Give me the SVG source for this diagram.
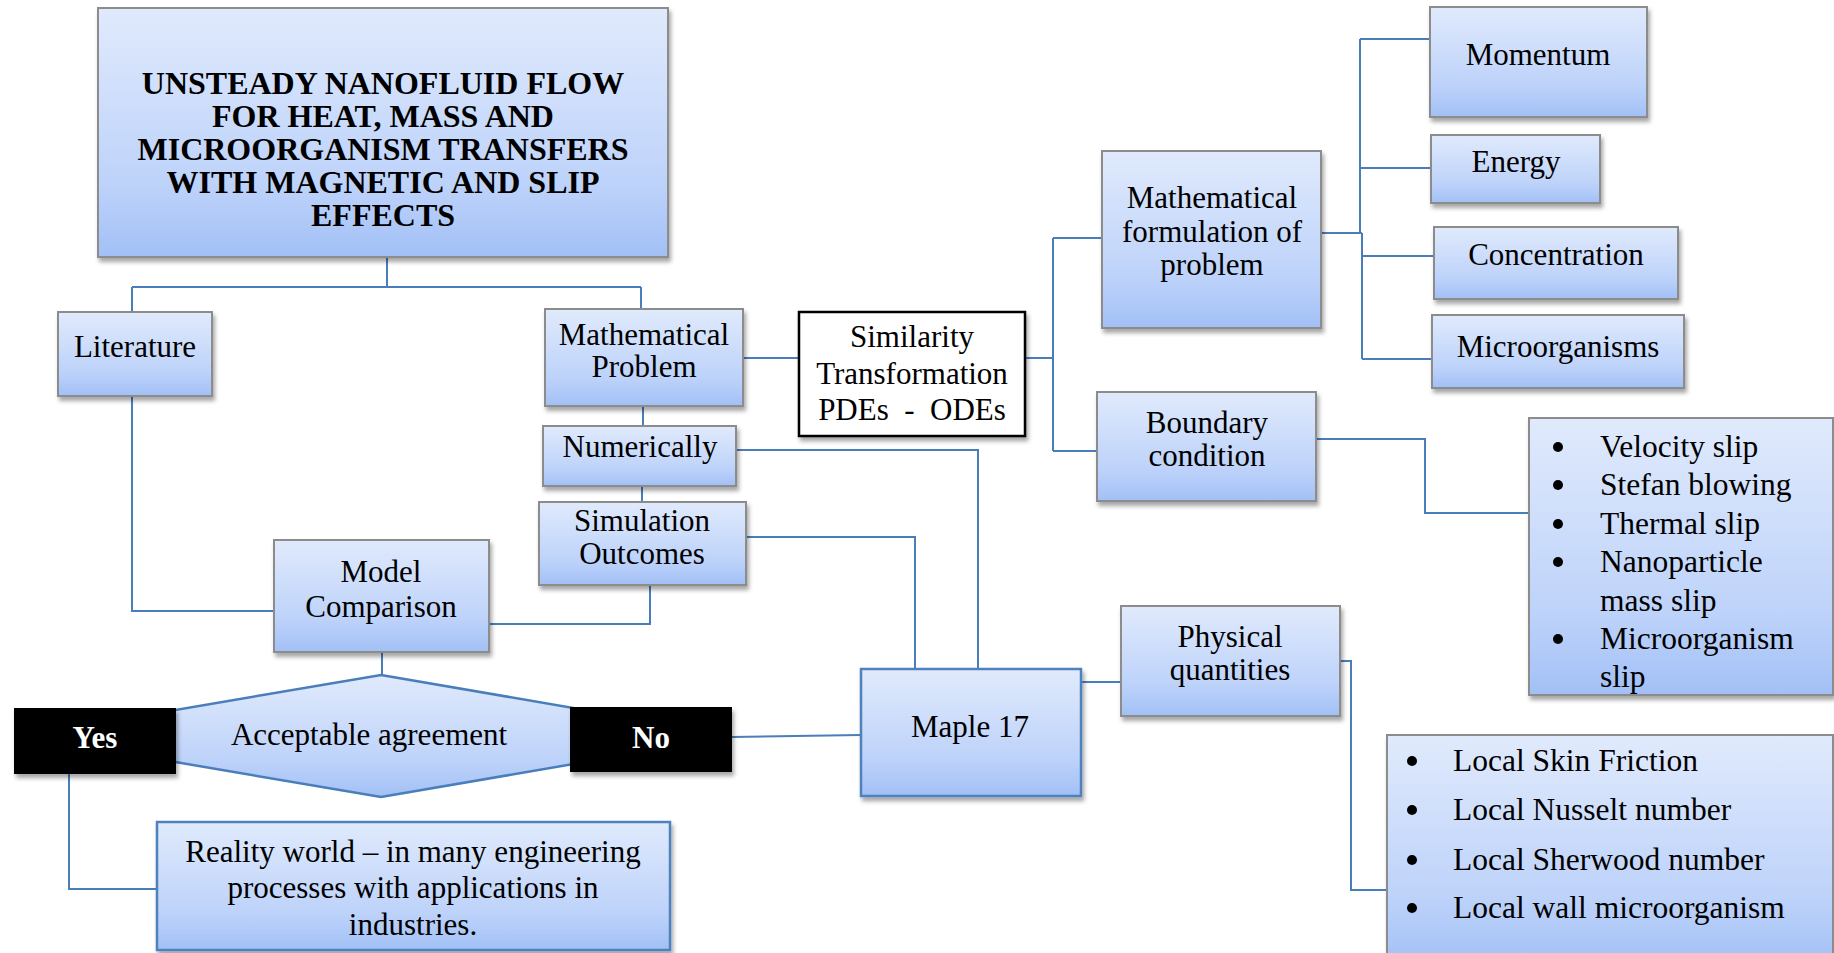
<svg xmlns="http://www.w3.org/2000/svg" width="1834" height="953" viewBox="0 0 1834 953">
<defs>
<linearGradient id="g" x1="0" y1="0" x2="0" y2="1">
<stop offset="0" stop-color="#e0eafc"/>
<stop offset="0.7" stop-color="#bed3fa"/>
<stop offset="1" stop-color="#a2c0f6"/>
</linearGradient>
<filter id="sh" x="-10%" y="-10%" width="130%" height="130%">
<feDropShadow dx="2" dy="4" stdDeviation="2" flood-color="#000" flood-opacity="0.35"/>
</filter>
</defs>
<style>
.box{fill:url(#g);stroke:#8c8c8c;stroke-width:2;filter:url(#sh)}
.bbox{fill:url(#g);stroke:#4f81bd;stroke-width:2.5;filter:url(#sh)}
.blk{fill:#000;filter:url(#sh)}
.wbox{fill:#fff;stroke:#000;stroke-width:2.5;filter:url(#sh)}
.t{font-family:"Liberation Serif","Times New Roman",serif;font-size:31px;fill:#000;text-anchor:middle}
.tl{font-family:"Liberation Serif","Times New Roman",serif;font-size:31.5px;fill:#000}
.tb{font-family:"Liberation Serif","Times New Roman",serif;font-size:32px;font-weight:bold;fill:#000;text-anchor:middle}
.tw{font-family:"Liberation Serif","Times New Roman",serif;font-size:31px;font-weight:bold;fill:#fff;text-anchor:middle}
.c{fill:none;stroke:#4a7ebb;stroke-width:2}
.dot{fill:#000}
</style>
<g id="connectors">
<path class="c" d="M387,257 V287 M132,287 H641 M132,287 V312 M641,287 V309"/>
<path class="c" d="M132,396 V611 H274"/>
<path class="c" d="M743,358 H799"/>
<path class="c" d="M643,406 V426"/>
<path class="c" d="M642,486 V502"/>
<path class="c" d="M736,450 H978 V669"/>
<path class="c" d="M746,537 H915 V669"/>
<path class="c" d="M650,585 V624 H489"/>
<path class="c" d="M382,652 V675"/>
<path class="c" d="M69,774 V889 H157"/>
<path class="c" d="M732,737 L861,735"/>
<path class="c" d="M1025,358 H1053 M1053,238 V451 M1053,238 H1102 M1053,451 H1097"/>
<path class="c" d="M1321,233 H1362 M1360,39 V233 M1360,39 H1430 M1360,168 H1431 M1362,233 V359 M1362,256 H1434 M1362,359 H1432"/>
<path class="c" d="M1316,439 H1425 V513 H1529"/>
<path class="c" d="M1081,682 H1121"/>
<path class="c" d="M1340,661 H1351 V890 H1387"/>
</g>
<g id="title">
<rect class="box" x="98" y="8" width="570" height="249"/>
<text class="tb" x="383" y="94">UNSTEADY NANOFLUID FLOW</text>
<text class="tb" x="383" y="127">FOR HEAT, MASS AND</text>
<text class="tb" x="383" y="160">MICROORGANISM TRANSFERS</text>
<text class="tb" x="383" y="193">WITH MAGNETIC AND SLIP</text>
<text class="tb" x="383" y="226">EFFECTS</text>
</g>
<g id="literature">
<rect class="box" x="58" y="312" width="154" height="84"/>
<text class="t" x="135" y="357">Literature</text>
</g>
<g id="math-problem">
<rect class="box" x="545" y="309" width="198" height="97"/>
<text class="t" x="644" y="345">Mathematical</text>
<text class="t" x="644" y="377">Problem</text>
</g>
<g id="numerically">
<rect class="box" x="543" y="426" width="193" height="60"/>
<text class="t" x="640" y="457">Numerically</text>
</g>
<g id="simulation">
<rect class="box" x="539" y="502" width="207" height="83"/>
<text class="t" x="642" y="531">Simulation</text>
<text class="t" x="642" y="564">Outcomes</text>
</g>
<g id="model-comparison">
<rect class="box" x="274" y="540" width="215" height="112"/>
<text class="t" x="381" y="582">Model</text>
<text class="t" x="381" y="617">Comparison</text>
</g>
<g id="acceptable">
<polygon points="381,675 620,716 620,756 381,797 140,756 140,716" fill="url(#g)" stroke="#4a7ebb" stroke-width="2.5"/>
<text class="t" x="369" y="745">Acceptable agreement</text>
</g>
<g id="yes">
<rect class="blk" x="14" y="708" width="162" height="66"/>
<text class="tw" x="95" y="748">Yes</text>
</g>
<g id="no">
<rect class="blk" x="570" y="707" width="162" height="65"/>
<text class="tw" x="651" y="748">No</text>
</g>
<g id="reality">
<rect class="bbox" x="157" y="822" width="513" height="128"/>
<text class="t" x="413" y="862">Reality world – in many engineering</text>
<text class="t" x="413" y="898">processes with applications in</text>
<text class="t" x="413" y="935">industries.</text>
</g>
<g id="similarity">
<rect class="wbox" x="799" y="312" width="226" height="124"/>
<text class="t" x="912" y="347">Similarity</text>
<text class="t" x="912" y="384">Transformation</text>
<text class="t" x="912" y="420" style="white-space:pre">PDEs  -  ODEs</text>
</g>
<g id="maple">
<rect class="bbox" x="861" y="669" width="220" height="127"/>
<text class="t" x="970" y="737">Maple 17</text>
</g>
<g id="formulation">
<rect class="box" x="1102" y="151" width="219" height="177"/>
<text class="t" x="1212" y="208">Mathematical</text>
<text class="t" x="1212" y="242">formulation of</text>
<text class="t" x="1212" y="275">problem</text>
</g>
<g id="boundary">
<rect class="box" x="1097" y="392" width="219" height="109"/>
<text class="t" x="1207" y="433">Boundary</text>
<text class="t" x="1207" y="466">condition</text>
</g>
<g id="physical">
<rect class="box" x="1121" y="606" width="219" height="110"/>
<text class="t" x="1230" y="647">Physical</text>
<text class="t" x="1230" y="680">quantities</text>
</g>
<g id="momentum">
<rect class="box" x="1430" y="7" width="217" height="110"/>
<text class="t" x="1538" y="65">Momentum</text>
</g>
<g id="energy">
<rect class="box" x="1431" y="135" width="169" height="68"/>
<text class="t" x="1516" y="172">Energy</text>
</g>
<g id="concentration">
<rect class="box" x="1434" y="227" width="244" height="72"/>
<text class="t" x="1556" y="265">Concentration</text>
</g>
<g id="microorganisms">
<rect class="box" x="1432" y="315" width="252" height="73"/>
<text class="t" x="1558" y="357">Microorganisms</text>
</g>
<g id="slip-list">
<rect class="box" x="1529" y="418" width="304" height="277"/>
<circle class="dot" cx="1558" cy="447" r="5"/>
<circle class="dot" cx="1558" cy="485" r="5"/>
<circle class="dot" cx="1558" cy="524" r="5"/>
<circle class="dot" cx="1558" cy="562" r="5"/>
<circle class="dot" cx="1558" cy="639" r="5"/>
<g class="tl">
<text x="1600" y="457">Velocity slip</text>
<text x="1600" y="495">Stefan blowing</text>
<text x="1600" y="534">Thermal slip</text>
<text x="1600" y="572">Nanoparticle</text>
<text x="1600" y="611">mass slip</text>
<text x="1600" y="649">Microorganism</text>
<text x="1600" y="687">slip</text>
</g>
</g>
<g id="quantities-list">
<rect class="box" x="1387" y="735" width="446" height="230"/>
<circle class="dot" cx="1412" cy="761" r="5"/>
<circle class="dot" cx="1412" cy="810" r="5"/>
<circle class="dot" cx="1412" cy="860" r="5"/>
<circle class="dot" cx="1412" cy="908" r="5"/>
<g class="tl">
<text x="1453" y="771">Local Skin Friction</text>
<text x="1453" y="820">Local Nusselt number</text>
<text x="1453" y="870">Local Sherwood number</text>
<text x="1453" y="918">Local wall microorganism</text>
</g>
</g>
</svg>
